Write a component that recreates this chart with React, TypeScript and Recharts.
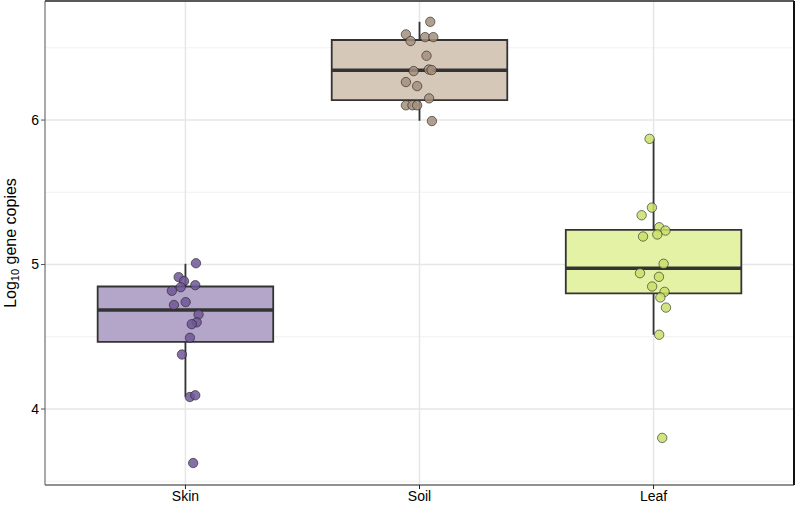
import React from 'react';
import {
  ComposedChart,
  Scatter,
  XAxis,
  YAxis,
  CartesianGrid,
  ReferenceArea,
  ReferenceLine,
} from 'recharts';

// categories and box statistics
const categories = ['Skin', 'Soil', 'Leaf'];
const lowerWhisker = [4.085, 5.995, 4.514];
const q1 = [4.465, 6.138, 4.8];
const median = [4.686, 6.344, 4.975];
const q3 = [4.848, 6.554, 5.24];
const upperWhisker = [5.005, 6.68, 5.87];

// individual samples (log10 copies) and their horizontal jitter
const skinValues = [5.009, 4.913, 4.885, 4.843, 4.818, 4.857, 4.74, 4.72, 4.654, 4.6, 4.587, 4.493, 4.377, 4.083, 4.095, 3.626];
const skinJitter = [0.045, -0.029, -0.006, -0.02, -0.058, 0.042, 0.001, -0.049, 0.056, 0.048, 0.027, 0.019, -0.015, 0.019, 0.042, 0.033];
const soilValues = [6.68, 6.593, 6.547, 6.574, 6.574, 6.445, 6.339, 6.35, 6.346, 6.263, 6.235, 6.15, 6.102, 6.102, 6.102, 5.993];
const soilJitter = [0.046, -0.058, -0.038, 0.024, 0.059, 0.03, -0.025, 0.04, 0.052, -0.058, -0.01, 0.041, -0.058, -0.03, -0.01, 0.053];
const leafValues = [5.87, 5.394, 5.341, 5.258, 5.235, 5.208, 5.194, 5.005, 4.94, 4.915, 4.848, 4.811, 4.772, 4.702, 4.514, 3.8];
const leafJitter = [-0.017, -0.007, -0.051, 0.024, 0.051, 0.016, -0.045, 0.043, -0.058, 0.023, -0.006, 0.047, 0.029, 0.053, 0.024, 0.037];

const yTicks = [4, 5, 6];
const minorTicks = [3.5, 4.5, 5.5, 6.5];
const xTicks = [1, 2, 3];

const boxFill = ['#b4a6c9', '#d6c8b9', '#e4f2a6'];
const pointFill = ['#6f5697', '#a48f7b', '#c8e06a'];

const samples = [
  { values: skinValues, jitter: skinJitter },
  { values: soilValues, jitter: soilJitter },
  { values: leafValues, jitter: leafJitter },
];

const FONT = '"Liberation Sans", Arial, Helvetica, sans-serif';
const BOX_W = 0.375;

const YLabel = (props: any) => {
  const vb = props.viewBox || {};
  const x = 16;
  const y = (vb.y ?? 0) + (vb.height ?? 0) / 2;
  return (
    <text
      x={x}
      y={y}
      transform={`rotate(-90, ${x}, ${y})`}
      textAnchor="middle"
      fontFamily={FONT}
      fontSize={16}
      fill="#000"
    >
      Log
      <tspan fontSize={11} dy={3}>10</tspan>
      <tspan dy={-3}> gene copies</tspan>
    </text>
  );
};

export default function App() {
  const series = samples.map((s, i) =>
    s.values.map((v, j) => ({ x: i + 1 + s.jitter[j], y: v }))
  );

  return (
    <div style={{ position: 'absolute', left: 0, top: 0, background: '#fff' }}>
      <ComposedChart
        width={795}
        height={509}
        margin={{ top: 1, right: 1, left: 0, bottom: 0 }}
      >
        <CartesianGrid
          horizontalValues={minorTicks}
          vertical={false}
          stroke="#f1f1f1"
          strokeWidth={1}
        />
        <CartesianGrid
          horizontalValues={yTicks}
          verticalValues={xTicks}
          stroke="#e6e6e6"
          strokeWidth={1.5}
        />
        <XAxis
          type="number"
          dataKey="x"
          domain={[0.4, 3.6]}
          ticks={xTicks}
          tickFormatter={(v: number) => categories[v - 1]}
          allowDataOverflow
          height={24}
          stroke="#222"
          tick={{ fill: '#000', fontSize: 14, fontFamily: FONT }}
          tickSize={4}
        />
        <YAxis
          type="number"
          dataKey="y"
          domain={[3.474, 6.824]}
          ticks={yTicks}
          allowDataOverflow
          width={45}
          stroke="#555"
          tick={{ fill: '#000', fontSize: 14, fontFamily: FONT }}
          tickSize={4}
          label={{ content: <YLabel /> }}
        />

        <ReferenceLine y={6.824} stroke="#222" strokeWidth={1.5} />
        <ReferenceLine x={3.6} stroke="#111" strokeWidth={2} />

        {categories.map((c, i) => (
          <ReferenceLine
            key={`wu${c}`}
            segment={[{ x: i + 1, y: q3[i] }, { x: i + 1, y: upperWhisker[i] }]}
            stroke="#333"
            strokeWidth={1.8}
          />
        ))}
        {categories.map((c, i) => (
          <ReferenceLine
            key={`wl${c}`}
            segment={[{ x: i + 1, y: lowerWhisker[i] }, { x: i + 1, y: q1[i] }]}
            stroke="#333"
            strokeWidth={1.8}
          />
        ))}
        {categories.map((c, i) => (
          <ReferenceArea
            key={`b${c}`}
            x1={i + 1 - BOX_W}
            x2={i + 1 + BOX_W}
            y1={q1[i]}
            y2={q3[i]}
            fill={boxFill[i]}
            fillOpacity={1}
            stroke="#333"
            strokeWidth={1.8}
          />
        ))}
        {categories.map((c, i) => (
          <ReferenceLine
            key={`m${c}`}
            segment={[{ x: i + 1 - BOX_W, y: median[i] }, { x: i + 1 + BOX_W, y: median[i] }]}
            stroke="#333"
            strokeWidth={3.5}
          />
        ))}

        {series.map((d, i) => (
          <Scatter
            key={`s${i}`}
            data={d}
            fill={pointFill[i]}
            shape={(p: any) => (
              <circle
                cx={p.cx}
                cy={p.cy}
                r={4.7}
                fill={pointFill[i]}
                fillOpacity={0.85}
                stroke="#222"
                strokeOpacity={0.6}
                strokeWidth={1}
              />
            )}
            isAnimationActive={false}
          />
        ))}
      </ComposedChart>
    </div>
  );
}
